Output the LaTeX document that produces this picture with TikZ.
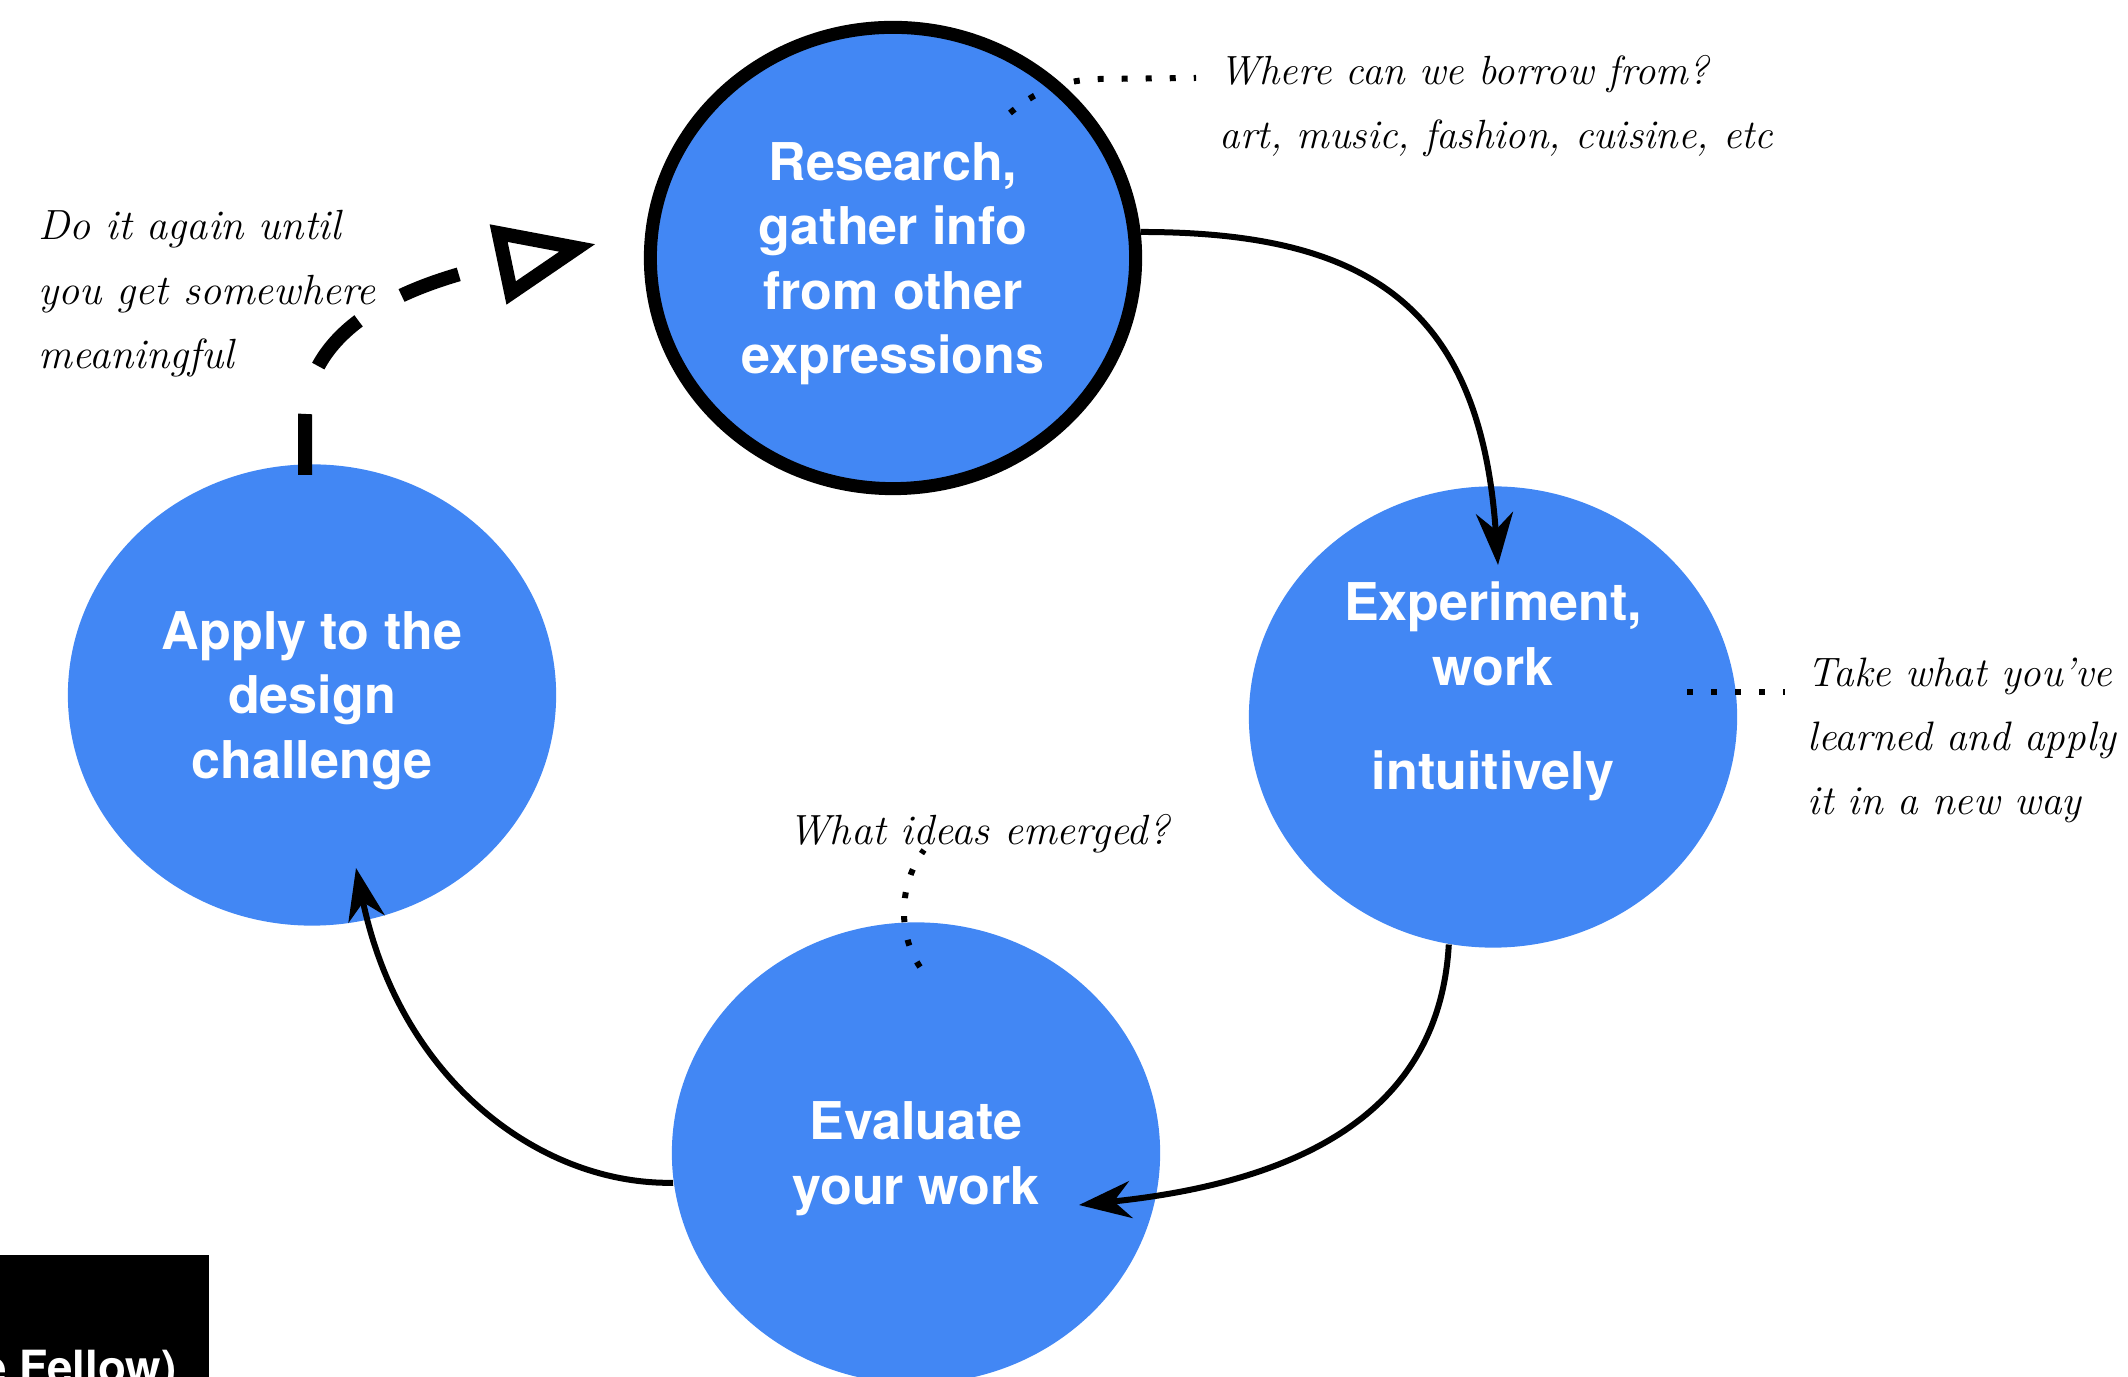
\documentclass[tikz,border=0pt]{standalone}
\usepackage{fontspec}
\usepackage{tikz}
\usetikzlibrary{arrows.meta,shapes.geometric}
\newfontfamily\stagefont{TeX Gyre Heros}
\definecolor{qqblue}{rgb}{0.259,0.529,0.957}

\begin{document}
\begin{tikzpicture}[line cap=butt,line join=round,x=0.01cm,y=-0.01cm,
  stage/.style={ellipse,fill=qqblue,inner sep=0pt,minimum width=4.88cm,minimum height=4.61cm,text depth=0pt,
    text=white,align=center,font=\stagefont\bfseries\fontsize{14.8}{18.3}\selectfont},
  flow/.style={line width=0.06cm,-{Stealth[length=0.52cm,width=0.37cm,inset=0.17cm]}},
  loopback/.style={line width=0.14cm,dash pattern=on 0.61cm off 0.5cm,-{Triangle[open,length=1cm,width=0.78cm,line width=0.14cm]}},
  hint/.style={line width=0.06cm,dash pattern=on 0.06cm off 0.18cm},
  note/.style={align=left,inner sep=0pt,font=\itshape\fontsize{12}{18.4}\selectfont}]
\useasboundingbox (0,0) rectangle (2128,1377);
% stages
\node[stage,draw=black,line width=0.13cm,minimum width=4.85cm,minimum height=4.61cm] (research) at (893,258) {Research,\\gather info\\from other\\expressions};
\node[stage,text depth=0.62cm] (experiment) at (1493,717) {Experiment,\\work\\[0.4cm]intuitively};
\node[stage] (evaluate) at (916,1153) {Evaluate\\your work};
\node[stage] (apply) at (312,695) {Apply to the\\design\\challenge};
% arrow tips inside the circles
\coordinate (tipA) at (1498,565);
\coordinate (tipB) at (1079,1205);
\coordinate (tipC) at (356,868);
\coordinate (tipD) at (596,244);
\draw[flow] (research.6) .. controls (1360,232) and (1480,300) .. (tipA);
\draw[flow] (experiment.259) .. controls (1440,1100) and (1320,1180) .. (tipB);
\draw[flow] (evaluate.187) .. controls (540,1185) and (400,1080) .. (tipC);
\draw[loopback] (305,475) -- (305,420) .. controls (305,330) and (400,285) .. (tipD);
% notes
\node[note,anchor=base west,font=\itshape\fontsize{11.6}{18.4}\selectfont] (borrow) at (1219,149) {Where can we borrow from?\\art, music, fashion, cuisine, etc};
\node[note,anchor=base west,font=\itshape\fontsize{11.7}{18.2}\selectfont] (learned) at (1807,815) {Take what you've\\learned and apply\\it in a new way};
\node[note,anchor=base west] (emerged) at (788,845) {What ideas emerged?};
\node[note,anchor=base west] (again) at (38,369) {Do it again until\\you get somewhere\\meaningful};
\coordinate (borrowend) at (1196,78);
\coordinate (learnedend) at (1785,692);
\coordinate (emergedend) at (924,850);
\draw[hint] (1010,113) .. controls (1035,92) and (1060,80) .. (1100,79) -- (borrowend);
\draw[hint] (1687,692) -- (learnedend);
\draw[hint] (920,967) .. controls (898,935) and (898,885) .. (emergedend);
% cut-off caption box
\fill[black] (0,1255) rectangle (209,1377);
\node[anchor=base east,inner sep=0pt,text=white,font=\stagefont\bfseries\fontsize{13}{16}\selectfont] (fellow) at (177,1383) {e Fellow)};
\end{tikzpicture}
\end{document}
